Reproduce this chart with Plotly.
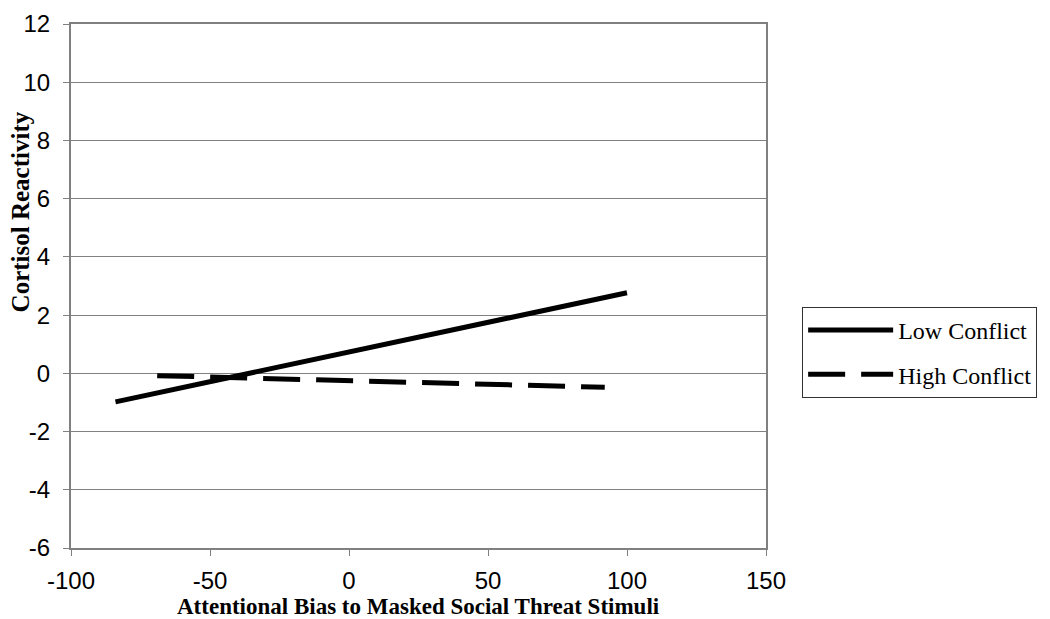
import plotly.graph_objects as go

# simple slopes
low_x = [-84, 100]
low_y = [-0.98, 2.77]
high_x = [-69, 92]
high_y = [-0.08, -0.48]

x_ticks = [-100, -50, 0, 50, 100, 150]
x_labels = ["-100", "-50", "0", "50", "100", "150"]
y_ticks = [-6, -4, -2, 0, 2, 4, 6, 8, 10, 12]
y_labels = ["-6", "-4", "-2", "0", "2", "4", "6", "8", "10", "12"]

serif = "Liberation Serif, Times New Roman, serif"
sans = "Liberation Sans, Arial, sans-serif"

fig = go.Figure()

fig.add_trace(
    go.Scatter(
        x=low_x,
        y=low_y,
        mode="lines",
        name="Low Conflict",
        legendgroup="low",
        line=dict(color="black", width=5)
    )
)

fig.add_trace(
    go.Scatter(
        x=high_x,
        y=high_y,
        mode="lines",
        name="High Conflict",
        legendgroup="high",
        line=dict(color="black", width=5, dash="37px,16px")
    )
)

axis_style = dict(
    showline=True,
    linecolor="#808080",
    linewidth=2,
    mirror=True,
    ticks="outside",
    ticklen=6,
    tickcolor="#808080",
    zeroline=False,
    automargin=False,
    ticklabeloverflow="allow",
    tickfont=dict(family=sans, size=24, color="black")
)

fig.update_layout(
    width=1042,
    height=611,
    paper_bgcolor="white",
    plot_bgcolor="white",
    margin=dict(l=63, r=284, t=16, b=71),
    font=dict(family=sans, size=20, color="black"),
    xaxis=dict(
        range=[-100, 150],
        tickvals=x_ticks,
        ticktext=x_labels,
        showgrid=False,
        ticklabelstandoff=4,
        **axis_style
    ),
    yaxis=dict(
        range=[-6, 12],
        tickvals=y_ticks,
        ticktext=y_labels,
        showgrid=True,
        gridcolor="#808080",
        gridwidth=1,
        ticklabelstandoff=8,
        **axis_style
    ),
    legend=dict(
        x=1.052,
        y=0.46,
        xanchor="left",
        yanchor="top",
        bordercolor="#333333",
        borderwidth=1,
        bgcolor="white",
        font=dict(family=serif, size=24, color="black"),
        itemwidth=85,
        tracegroupgap=10
    ),
    showlegend=True,
    annotations=[
        dict(
            text="<b>Attentional Bias to Masked Social Threat Stimuli</b>",
            xref="paper", yref="paper",
            x=0.5, y=-0.111,
            xanchor="center", yanchor="middle",
            showarrow=False,
            font=dict(family=serif, size=23, color="black")
        ),
        dict(
            text="<b>Cortisol Reactivity</b>",
            xref="paper", yref="paper",
            x=-0.073, y=0.641,
            xanchor="center", yanchor="middle",
            textangle=-90,
            showarrow=False,
            font=dict(family=serif, size=25, color="black")
        )
    ]
)

fig.write_html("out.html")
